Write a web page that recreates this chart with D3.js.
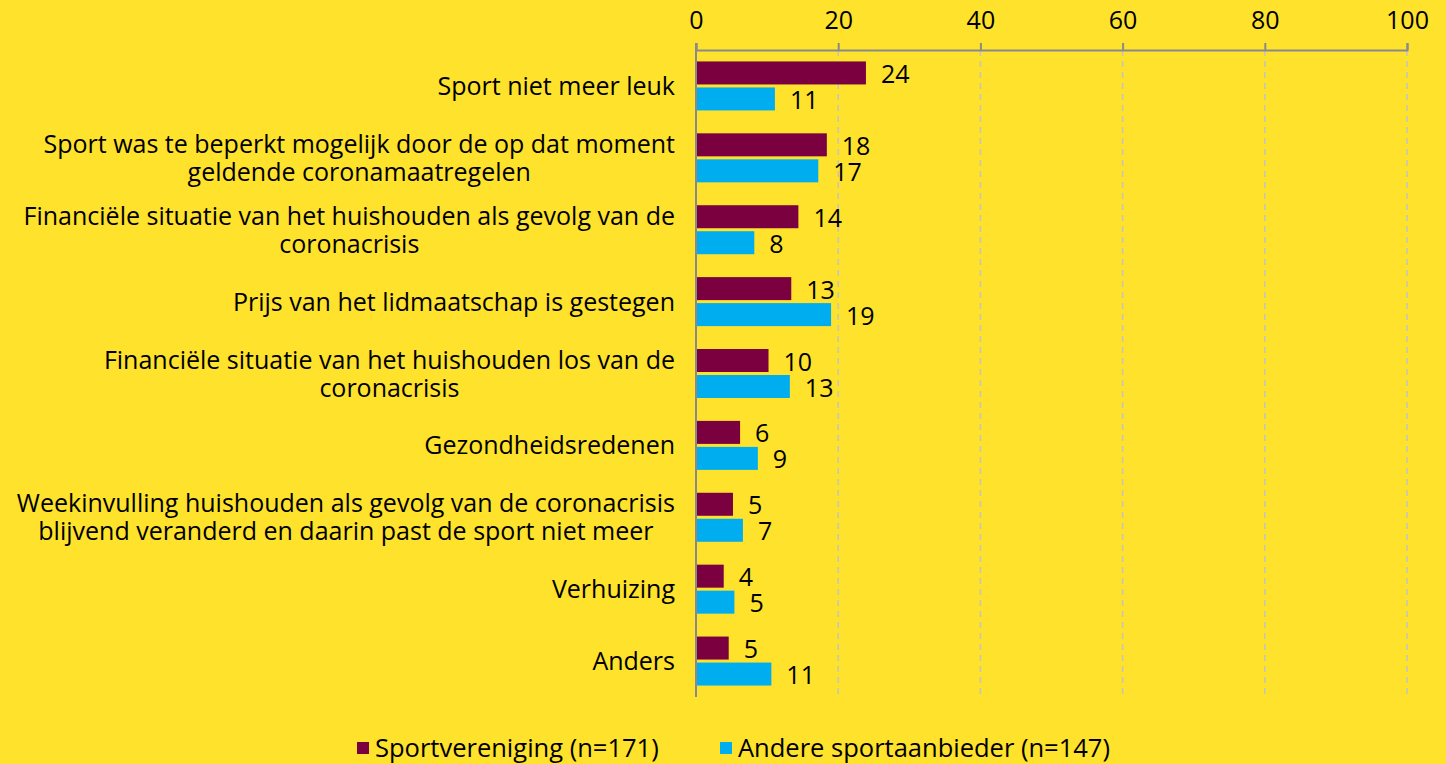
<!DOCTYPE html>
<html>
<head>
<meta charset="utf-8">
<script src="https://cdn.jsdelivr.net/npm/d3@7"></script>
<style>
  html, body { margin: 0; padding: 0; background: #FEE22C; }
  svg text { font-family: "Open Sans", "Noto Sans", sans-serif; fill: #000; }
</style>
</head>
<body>
<svg id="chart" width="1446" height="764"></svg>
<script>
// Categories (lines of each label)
const categories = [
  ['Sport niet meer leuk'],
  ['Sport was te beperkt mogelijk door de op dat moment', 'geldende coronamaatregelen'],
  ['Financiële situatie van het huishouden als gevolg van de', 'coronacrisis'],
  ['Prijs van het lidmaatschap is gestegen'],
  ['Financiële situatie van het huishouden los van de', 'coronacrisis'],
  ['Gezondheidsredenen'],
  ['Weekinvulling huishouden als gevolg van de coronacrisis', 'blijvend veranderd en daarin past de sport niet meer'],
  ['Verhuizing'],
  ['Anders']
];
// percentages (labels show them rounded)
const sportvereniging = [23.9, 18.4, 14.4, 13.4, 10.2, 6.2, 5.2, 3.9, 4.6];
const andereAanbieder = [11.1, 17.2, 8.2, 19.0, 13.2, 8.7, 6.6, 5.4, 10.6];
const seriesNames = ['Sportvereniging (n=171)', 'Andere sportaanbieder (n=147)'];
const seriesColours = ['#7A003F', '#00AEEF'];
const xTicks = [0, 20, 40, 60, 80, 100];

const svg = d3.select('#chart');
const margin = { left: 696, right: 39, top: 50, bottom: 67 };
const width = +svg.attr('width');
const height = +svg.attr('height');

const x = d3.scaleLinear().domain([0, 100]).range([margin.left, width - margin.right]);
const y = d3.scaleBand().domain(d3.range(categories.length))
  .range([margin.top, height - margin.bottom]);
const barH = 23, barGap = 3;
const fontSize = 25;

// Dashed gridlines
svg.append('g').selectAll('line').data(xTicks.slice(1)).enter().append('line')
  .attr('x1', d => x(d)).attr('x2', d => x(d))
  .attr('y1', margin.top).attr('y2', height - margin.bottom)
  .attr('stroke', '#c4c4c4').attr('stroke-width', 1.5)
  .attr('stroke-dasharray', '6,5');

// Top axis
const xAxis = svg.append('g')
  .attr('transform', `translate(0,${margin.top})`)
  .call(d3.axisTop(x).tickValues(xTicks).tickSize(7).tickPadding(14));
xAxis.select('.domain').attr('stroke', '#8a8a8a').attr('stroke-width', 2);
xAxis.selectAll('.tick line').attr('stroke', '#8a8a8a').attr('stroke-width', 2);
xAxis.selectAll('.tick text').attr('font-size', fontSize).attr('fill', '#000')
  .style('font-family', '"Open Sans", sans-serif');

// Bars
const series = [sportvereniging, andereAanbieder];
const centre = i => y(i) + y.bandwidth() / 2;
series.forEach((vals, s) => {
  const yOff = s === 0 ? -barH - barGap / 2 : barGap / 2;
  const g = svg.append('g');
  g.selectAll('rect').data(vals).enter().append('rect')
    .attr('x', x(0))
    .attr('y', (d, i) => centre(i) + yOff)
    .attr('width', d => x(d) - x(0))
    .attr('height', barH)
    .attr('fill', seriesColours[s]);
  g.selectAll('text').data(vals).enter().append('text')
    .attr('x', d => x(d) + 15)
    .attr('y', (d, i) => centre(i) + yOff + barH / 2 + 1)
    .attr('dy', '0.36em')
    .attr('font-size', fontSize)
    .text(d => Math.round(d));
});

// Zero axis line
svg.append('line')
  .attr('x1', x(0)).attr('x2', x(0))
  .attr('y1', margin.top - 7).attr('y2', height - margin.bottom)
  .attr('stroke', '#8a8a8a').attr('stroke-width', 2);

// Category labels: block right-aligned, lines centred within the block
const lineH = 28;
const labelRight = margin.left - 21;
const labelGroups = svg.append('g').selectAll('g').data(categories).enter().append('g');
labelGroups.each(function (lines, i) {
  const g = d3.select(this);
  const texts = g.selectAll('text').data(lines).enter().append('text')
    .attr('font-size', fontSize)
    .attr('text-anchor', 'middle')
    .attr('y', (d, j) => centre(i) - (lines.length - 1) * lineH / 2 + j * lineH)
    .attr('dy', '0.36em')
    .text(d => d);
  const maxW = d3.max(texts.nodes(), n => n.getComputedTextLength());
  texts.attr('x', labelRight - maxW / 2);
});

// Legend
const legendX = [357, 720];
const legend = svg.append('g').selectAll('g').data(seriesNames).enter().append('g')
  .attr('transform', (d, i) => `translate(${legendX[i]},742)`);
legend.append('rect').attr('width', 12).attr('height', 12)
  .attr('fill', (d, i) => seriesColours[i]);
legend.append('text').attr('x', 18).attr('y', 6).attr('dy', '0.36em')
  .attr('font-size', 25.5).text(d => d);
</script>
</body>
</html>
